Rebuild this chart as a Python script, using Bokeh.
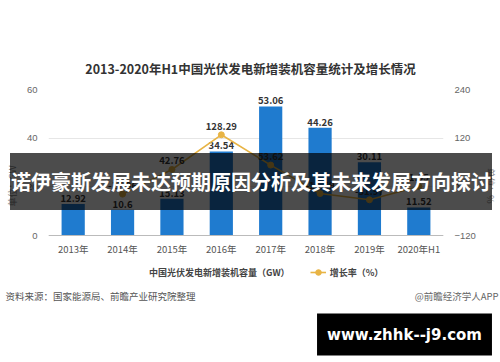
from bokeh.plotting import figure
from bokeh.models import (Range1d, LinearAxis, FixedTicker, Label, Legend, LegendItem,
                          FactorRange)
from bokeh.core.properties import value
from bokeh.embed import file_html
from bokeh.resources import INLINE

years = ["2013年", "2014年", "2015年", "2016年", "2017年", "2018年", "2019年", "2020年H1"]
capacity = [12.92, 10.6, 15.13, 34.54, 53.06, 44.26, 30.11, 11.52]
capacity_labels = ["12.92", "10.6", "15.13", "34.54", "53.06", "44.26", "30.11", "11.52"]
rate_years = ["2014年", "2015年", "2016年", "2017年", "2018年", "2019年", "2020年H1"]
rate = [-17.96, 42.76, 128.29, 53.62, -16.59, -31.97, 1.05]
rate_labels = ["-17.96", "42.76", "128.29", "53.62", "-16.59", "-31.97", "1.05"]
left_ticks = [0, 20, 40, 60]
right_ticks = [-120, 0, 120, 240]

FONT = "Noto Sans CJK SC"
BLUE = "#1f7bcf"
GOLD = "#e8b445"

# layout (pixels)
TOP, BOTTOM, LEFT, RIGHT = 89, 80, 48, 57
AXIS_SPAN = 146          # pixels between the 0 and 60 gridlines
BELOW_ZERO = 47          # frame extends below the zero line to hold the legend
L_MIN, L_MAX = left_ticks[0], left_ticks[-1]
R_MIN, R_MAX = right_ticks[0], right_ticks[-1]
l_low = L_MIN - BELOW_ZERO * (L_MAX - L_MIN) / AXIS_SPAN
r_low = R_MIN - BELOW_ZERO * (R_MAX - R_MIN) / AXIS_SPAN

p = figure(frame_width=500 - LEFT - RIGHT, frame_height=362 - TOP - BOTTOM,
           x_range=FactorRange(*years), y_range=Range1d(l_low, L_MAX),
           output_backend="svg", toolbar_location=None,
           min_border_left=LEFT, min_border_right=RIGHT,
           min_border_top=TOP, min_border_bottom=BOTTOM)
p.outline_line_color = None
p.extra_y_ranges = {"rate": Range1d(r_low, R_MAX)}

p.vbar(x=years, top=capacity, width=0.47, fill_color=BLUE, line_color=None)
p.text(x=years, y=capacity, text=capacity_labels, y_offset=-2, text_align="center",
       text_baseline="bottom", text_font_size="9.5px", text_font_style="bold",
       text_color="#333333", text_font=value(FONT))

ln = p.line(x=rate_years, y=rate, y_range_name="rate", line_color=GOLD, line_width=1.6)
pts = p.scatter(x=rate_years, y=rate, y_range_name="rate", size=6, fill_color=GOLD,
                line_color=GOLD)
p.text(x=rate_years, y=rate, text=rate_labels, y_range_name="rate", y_offset=-5,
       text_align="center", text_baseline="bottom", text_font_size="9.5px",
       text_font_style="bold", text_color="#333333", text_font=value(FONT))

dot = p.scatter(x=[], y=[], size=9, fill_color=BLUE, line_color=BLUE)

# axes
p.yaxis.ticker = FixedTicker(ticks=left_ticks)
p.yaxis.bounds = (L_MIN, L_MAX)
p.yaxis.axis_line_color = None
p.yaxis.major_tick_line_color = None
p.yaxis.minor_tick_line_color = None
p.yaxis.major_label_text_color = "#666666"
p.yaxis.major_label_text_font_size = "9.5px"
p.yaxis.axis_label = "单位：GW"
p.yaxis.axis_label_text_font = FONT
p.yaxis.axis_label_text_font_size = "9px"
p.yaxis.axis_label_text_font_style = "normal"
p.yaxis.axis_label_text_color = "#888888"

ry = LinearAxis(y_range_name="rate", ticker=FixedTicker(ticks=right_ticks),
                axis_label="单位：%", bounds=(R_MIN, R_MAX))
ry.axis_line_color = None
ry.major_tick_line_color = None
ry.minor_tick_line_color = None
ry.major_label_text_color = "#666666"
ry.major_label_text_font_size = "9.5px"
ry.axis_label_text_font = FONT
ry.axis_label_text_font_size = "9px"
ry.axis_label_text_font_style = "normal"
ry.axis_label_text_color = "#888888"
p.add_layout(ry, "right")

p.xaxis.fixed_location = 0
p.xaxis.axis_line_color = "#bbbbbb"
p.xaxis.major_tick_line_color = None
p.xaxis.major_tick_out = 0
p.xaxis.major_label_text_color = "#555555"
p.xaxis.major_label_text_font = FONT
p.xaxis.major_label_text_font_size = "9.5px"
p.xaxis.major_label_standoff = 6

p.xgrid.grid_line_color = None
p.ygrid.grid_line_color = "#e6e6e6"

legend = Legend(items=[LegendItem(label="中国光伏发电新增装机容量（GW）", renderers=[dot]),
                       LegendItem(label="增长率（%）", renderers=[ln, pts])],
                orientation="horizontal", location=(81, 3), border_line_color=None,
                background_fill_alpha=0, label_text_font=FONT,
                label_text_font_size="9px", label_text_color="#444444",
                label_text_font_style="bold", spacing=20, padding=0, margin=0,
                glyph_width=16, glyph_height=14, label_height=14, label_standoff=4)
p.add_layout(legend)

# texts outside the frame, in side panels, positioned on the canvas
p.add_layout(Label(x=250, y=68, x_units="canvas", y_units="canvas",
                   text="2013-2020年H1中国光伏发电新增装机容量统计及增长情况",
                   text_align="center", text_baseline="middle", text_font=FONT,
                   text_font_size="12.5px", text_font_style="bold",
                   text_color="#333333"), "above")
p.add_layout(Label(x=250.5, y=181, x_units="canvas", y_units="canvas",
                   text="诺伊豪斯发展未达预期原因分析及其未来发展方向探讨",
                   text_align="center", text_baseline="middle", text_font=FONT,
                   text_font_size="20px", text_font_style="bold", text_color="white",
                   background_fill_color="black", background_fill_alpha=0.7,
                   padding=(1, 14)), "above")

p.add_layout(Label(x=5, y=295, x_units="canvas", y_units="canvas",
                   text="资料来源：国家能源局、前瞻产业研究院整理",
                   text_align="left", text_baseline="middle", text_font=FONT,
                   text_font_size="9.5px", text_color="#555555"), "below")
p.add_layout(Label(x=498, y=295, x_units="canvas", y_units="canvas",
                   text="@前瞻经济学人APP",
                   text_align="right", text_baseline="middle", text_font=FONT,
                   text_font_size="9.5px", text_color="#666666"), "below")
p.add_layout(Label(x=404, y=334, x_units="canvas", y_units="canvas",
                   text="www.zhhk--j9.com",
                   text_align="center", text_baseline="middle", text_font="DejaVu Sans",
                   text_font_size="15px", text_font_style="bold", text_color="white",
                   background_fill_color="black", background_fill_alpha=1.0,
                   padding=(10, 12)), "below")

open("out.html", "w").write(file_html(p, INLINE))
